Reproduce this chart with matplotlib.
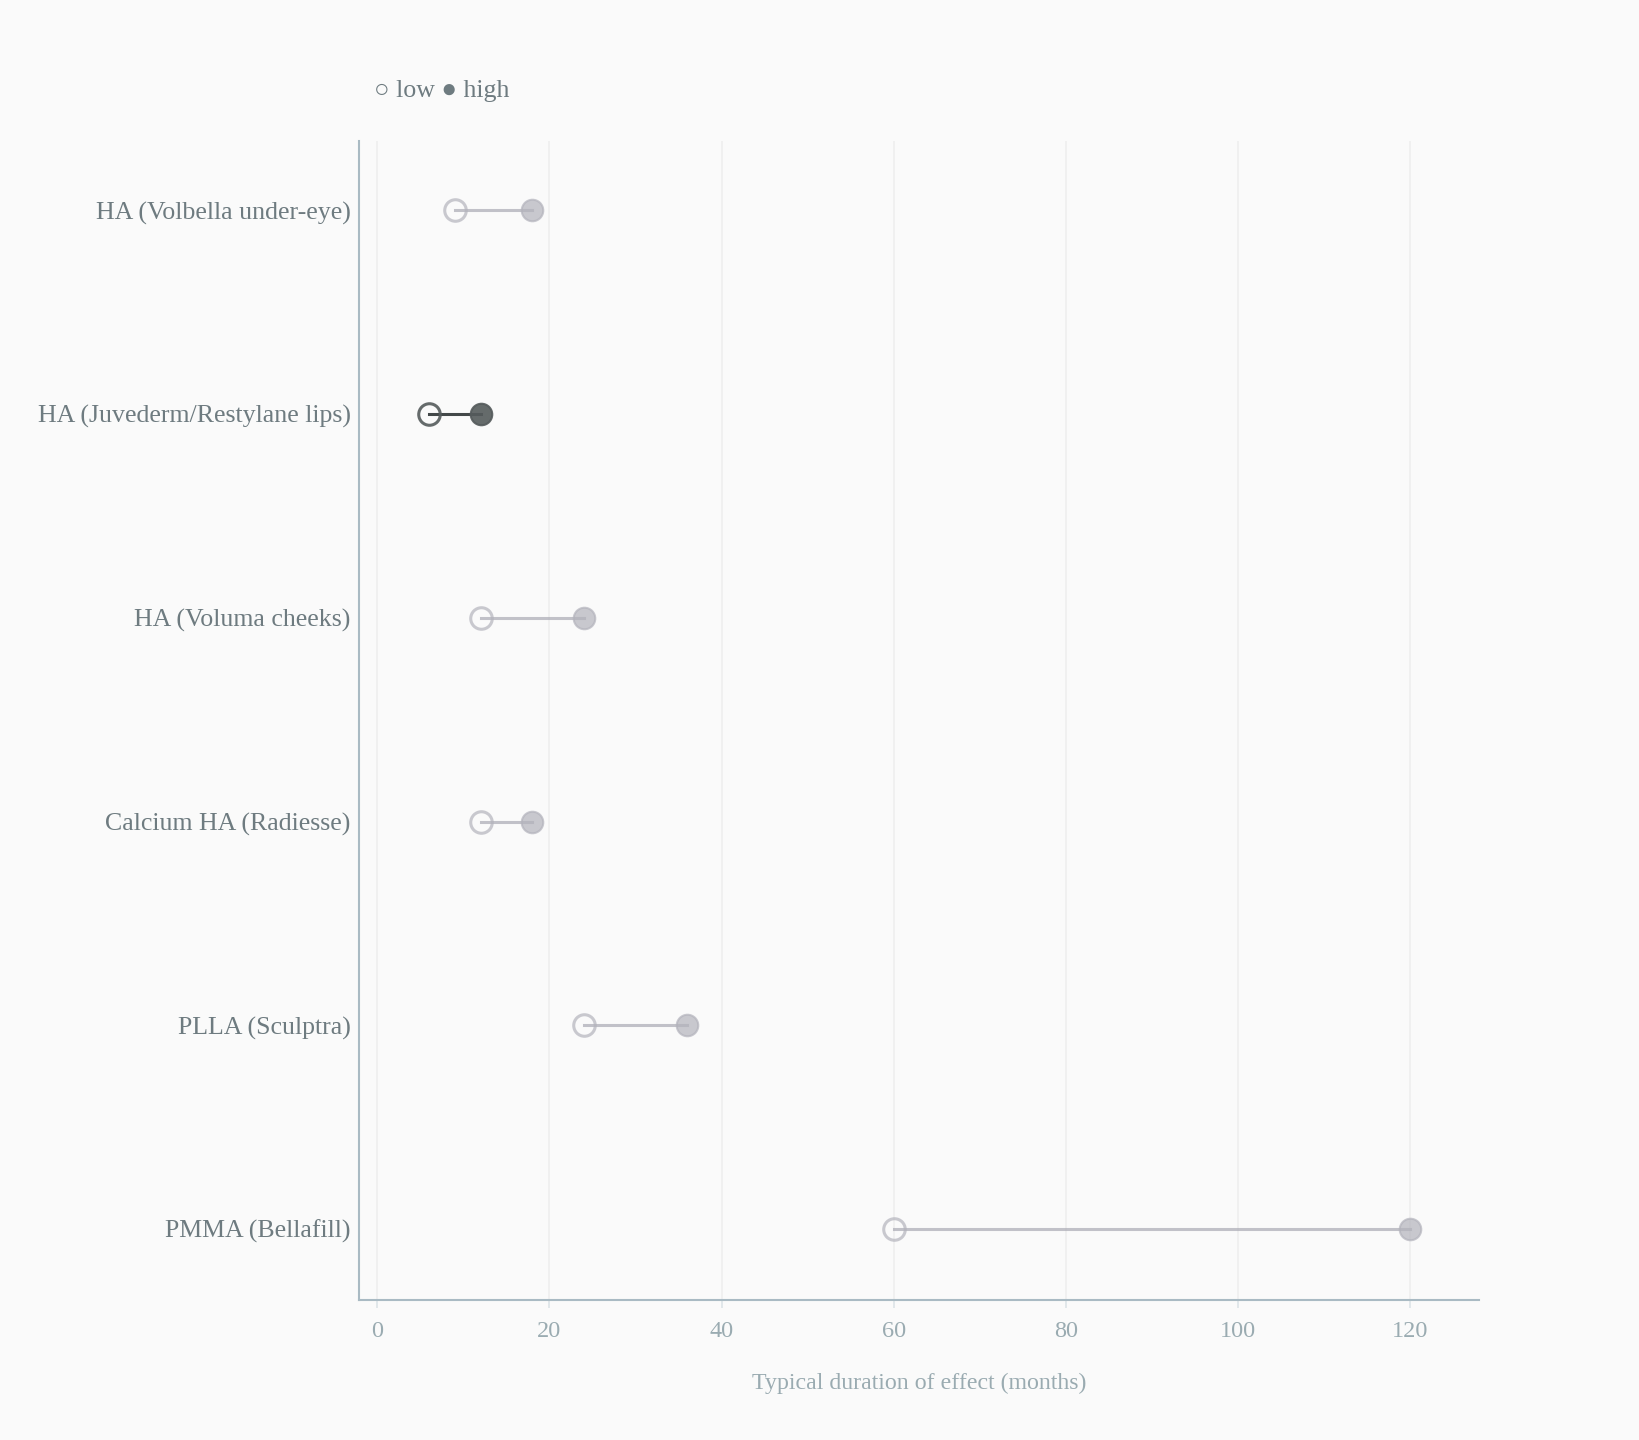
import matplotlib
matplotlib.use("Agg")
import matplotlib.pyplot as plt

# filler durations, months
fillers = [
    "HA (Volbella under-eye)",
    "HA (Juvederm/Restylane lips)",
    "HA (Voluma cheeks)",
    "Calcium HA (Radiesse)",
    "PLLA (Sculptra)",
    "PMMA (Bellafill)",
]
low = [9, 6, 12, 12, 24, 60]
high = [18, 12, 24, 18, 36, 120]
highlight = "HA (Juvederm/Restylane lips)"
xticks = [0, 20, 40, 60, 80, 100, 120]

BG = "#fafafa"
LABEL = "#6e7b80"
TICK = "#9aabb1"
SPINE = "#a9bac3"

plt.rcParams["font.family"] = ["Liberation Serif", "DejaVu Sans"]

fig = plt.figure(figsize=(16.4, 14.4), dpi=100, facecolor=BG)
ax = fig.add_axes([0.219, 0.097, 0.683, 0.805], facecolor=BG)

for i, name in enumerate(fillers):
    if name == highlight:
        line_c, edge_c, fill_c, alpha = "#2f3536", "#555b5c", "#555b5c", 0.9
    else:
        line_c, edge_c, fill_c, alpha = "#a9a9b4", "#b3b3bc", "#b3b3bc", 0.7
    ax.plot([low[i], high[i]], [i, i], color=line_c, lw=2.2, alpha=alpha, zorder=2)
    ax.plot(low[i], i, "o", ms=15.5, mfc="none", mec=edge_c, mew=2.2,
            alpha=alpha, zorder=3)
    ax.plot(high[i], i, "o", ms=15.5, mfc=fill_c, mec=fill_c, mew=1.5,
            alpha=alpha, zorder=3)

ax.set_xlim(-2.1, 128)
ax.set_ylim(len(fillers) - 0.65, -0.34)
ax.set_yticks(range(len(fillers)))
ax.set_yticklabels(fillers, fontsize=18.6, color=LABEL)
ax.tick_params(axis="y", length=0, pad=6)
ax.set_xticks(xticks)
ax.set_xticklabels([str(t) for t in xticks], fontsize=17.5, color=TICK)
ax.tick_params(axis="x", length=6, width=1.2, color="#dde4e7", pad=9)
ax.grid(axis="x", color="#efefef", lw=1.3)
ax.set_axisbelow(True)

for side in ("top", "right"):
    ax.spines[side].set_visible(False)
for side in ("left", "bottom"):
    ax.spines[side].set_color(SPINE)
    ax.spines[side].set_linewidth(1.5)

ax.set_xlabel("Typical duration of effect (months)", fontsize=17.2,
              color=TICK, labelpad=22)

fig.text(0.228, 0.937, "\u25cb low \u25cf high", fontsize=18.6, color=LABEL,
         ha="left", va="center")

fig.savefig("out.png", dpi=100, facecolor=BG)
